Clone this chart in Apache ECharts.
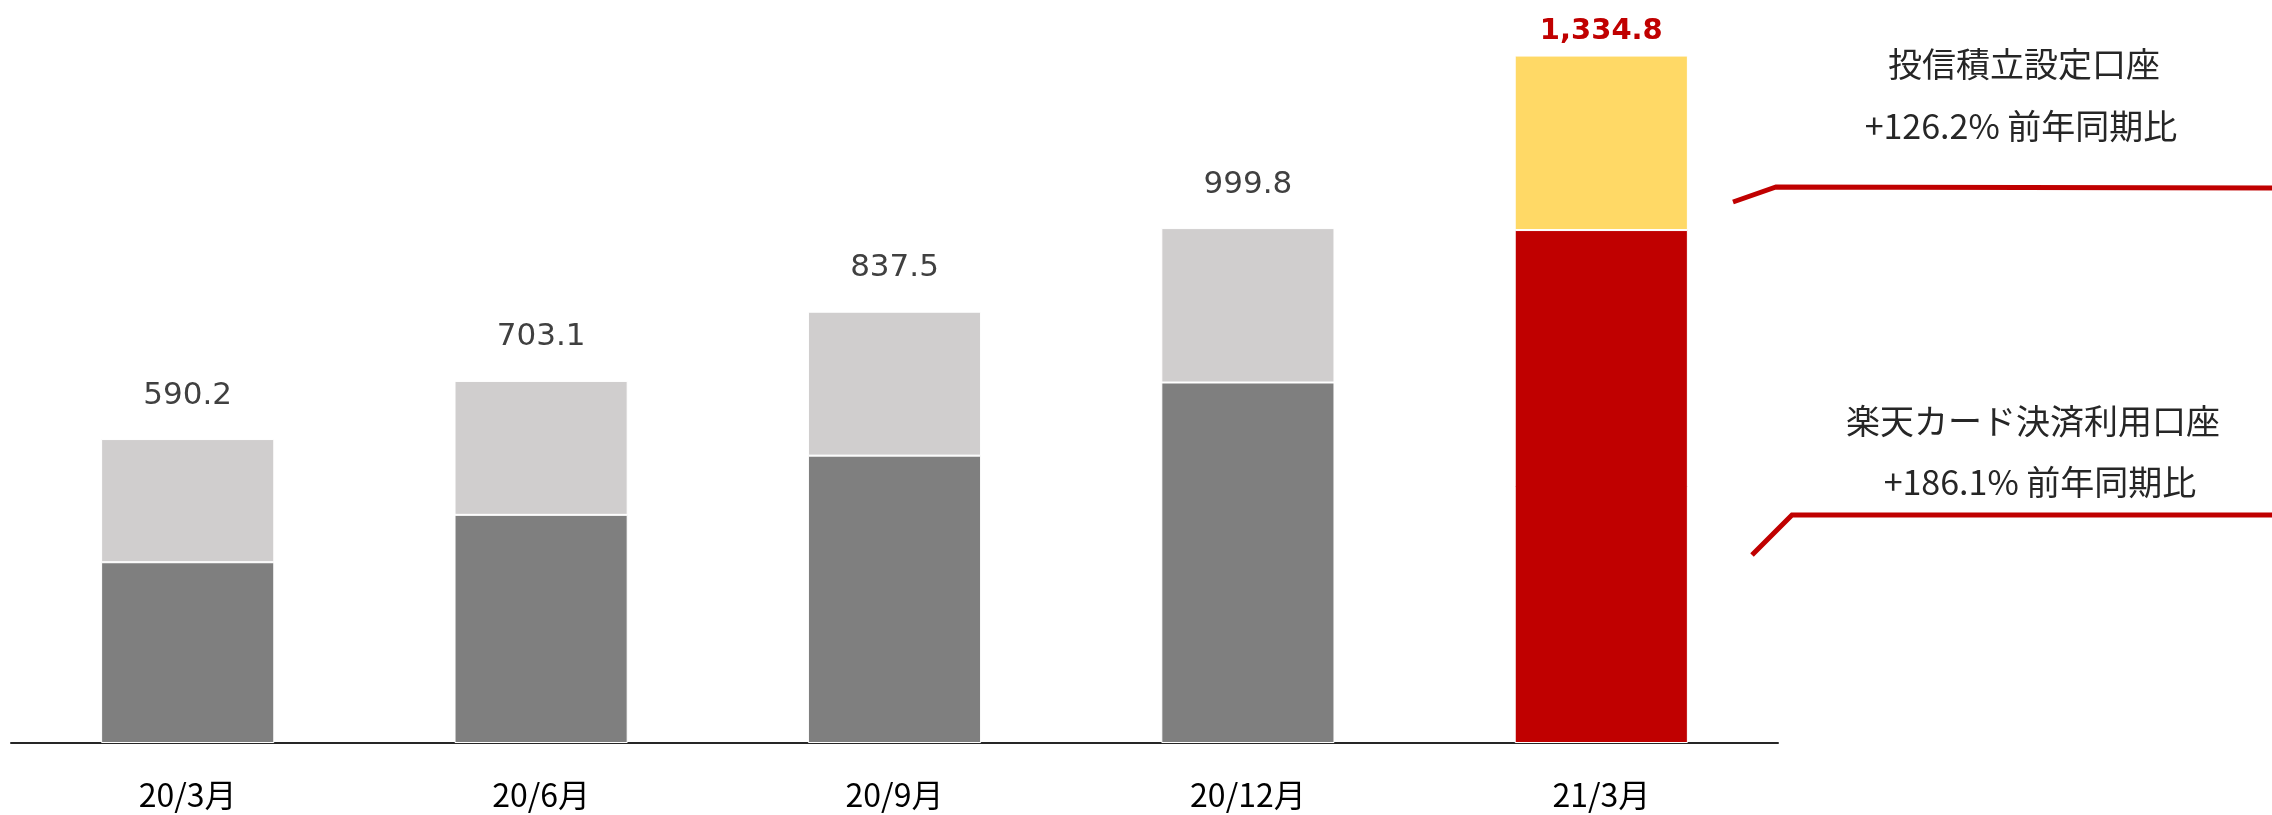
<!DOCTYPE html>
<html>
<head>
<meta charset="utf-8">
<script src="https://cdn.jsdelivr.net/npm/echarts@6/dist/echarts.min.js"></script>
<style>
  html, body { margin: 0; padding: 0; background: #fff; }
  #chart { width: 2272px; height: 815px; }
</style>
</head>
<body>
<div id="chart"></div>
<script>
var categories = ['20/3月', '20/6月', '20/9月', '20/12月', '21/3月'];
var totals = [590.2, 703.1, 837.5, 999.8, 1334.8];
// lower part (card settlement accounts)
var cardAccounts = [351, 443, 558, 700, 996];
// upper part = total - lower part
var otherAccounts = [239.2, 260.1, 279.5, 299.8, 338.8];

var cjk = '"Noto Sans CJK JP", "Noto Sans", sans-serif';
var lastIdx = categories.length - 1;

var myChart = echarts.init(document.getElementById('chart'));

var lowerData = cardAccounts.map(function (v, i) {
  if (i === lastIdx) {
    return { value: v, itemStyle: { color: '#C00000' } };
  }
  return v;
});
var upperData = otherAccounts.map(function (v, i) {
  if (i === lastIdx) {
    return {
      value: v,
      itemStyle: { color: '#FFD966' },
      label: {
        color: '#C00000',
        fontWeight: 'bold',
        fontSize: 29,
        distance: 10
      }
    };
  }
  return v;
});

function annotation(text, x, y) {
  return {
    type: 'text',
    position: [x, y],
    style: {
      text: text,
      fill: '#262626',
      font: '34px ' + cjk,
      textAlign: 'center',
      textVerticalAlign: 'middle'
    }
  };
}

var option = {
  animation: false,
  backgroundColor: '#ffffff',
  grid: {
    left: 11,
    right: 494,
    top: 22,
    bottom: 72
  },
  xAxis: {
    type: 'category',
    data: categories,
    axisLine: { lineStyle: { color: '#262626', width: 2 } },
    axisTick: { show: false },
    axisLabel: {
      color: '#000',
      fontSize: 32,
      fontFamily: cjk,
      margin: 36
    }
  },
  yAxis: {
    type: 'value',
    min: 0,
    max: 1400,
    show: false,
    splitLine: { show: false }
  },
  series: [{
    name: '楽天カード決済利用口座',
    type: 'bar',
    stack: 'all',
    barWidth: '49%',
    data: lowerData,
    itemStyle: { color: '#7F7F7F', borderColor: '#fff', borderWidth: 1 }
  }, {
    name: 'その他',
    type: 'bar',
    stack: 'all',
    barWidth: '49%',
    data: upperData,
    itemStyle: { color: '#D0CECE', borderColor: '#fff', borderWidth: 1 },
    label: {
      show: true,
      position: 'top',
      distance: 28,
      color: '#404040',
      fontSize: 31,
      fontFamily: 'DejaVu Sans, sans-serif',
      formatter: function (p) {
        return totals[p.dataIndex].toLocaleString('en-US', { minimumFractionDigits: 1 });
      }
    }
  }],
  graphic: [
    annotation('投信積立設定口座', 2024, 64),
    annotation('+126.2% 前年同期比', 2021, 126),
    annotation('楽天カード決済利用口座', 2033, 421),
    annotation('+186.1% 前年同期比', 2040, 482),
    {
      type: 'polyline',
      shape: { points: [[1733, 202], [1776, 187], [2272, 188]] },
      style: { stroke: '#C00000', lineWidth: 5, fill: null }
    }, {
      type: 'polyline',
      shape: { points: [[1752, 555], [1792, 515], [2272, 515]] },
      style: { stroke: '#C00000', lineWidth: 5, fill: null }
    }
  ]
};

myChart.setOption(option);
</script>
</body>
</html>
